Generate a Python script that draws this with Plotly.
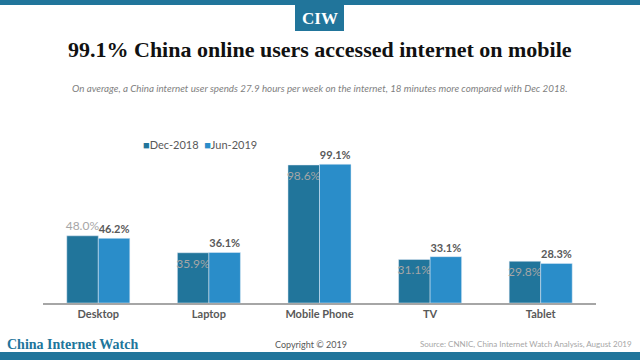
import plotly.graph_objects as go

categories = ["Desktop", "Laptop", "Mobile Phone", "TV", "Tablet"]
dec_2018 = [48.0, 35.9, 98.6, 31.1, 29.8]
jun_2019 = [46.2, 36.1, 99.1, 33.1, 28.3]
series_names = ["Dec-2018", "Jun-2019"]

TEAL = "#21759b"
BLUE = "#2a8dc9"
W, H = 640, 360

def py(p):
    return 1 - p / H

def px(p):
    return p / W

dec_pos = ["inside"] * len(dec_2018)
dec_pos[0] = "outside"

fig = go.Figure()
fig.add_trace(go.Bar(
    x=categories, y=dec_2018, name=series_names[0], marker_color=TEAL,
    text=[f"{v:.1f}%" for v in dec_2018], textposition=dec_pos, textangle=0,
    insidetextanchor="end", constraintext="none",
    textfont=dict(family="Lato", size=12, color="#a6a6a6"),
    cliponaxis=False, showlegend=False, hoverinfo="skip",
))
fig.add_trace(go.Bar(
    x=categories, y=jun_2019, name=series_names[1], marker_color=BLUE,
    text=[f"<b>{v:.1f}%</b>" for v in jun_2019], textposition="outside", textangle=0,
    constraintext="none",
    textfont=dict(family="Lato", size=11, color="#595959"),
    cliponaxis=False, showlegend=False, hoverinfo="skip",
))

shapes = [
    dict(type="rect", xref="paper", yref="paper", x0=0, x1=1, y0=py(5), y1=1,
         fillcolor=TEAL, line_width=0),
    dict(type="rect", xref="paper", yref="paper", x0=px(295), x1=px(344), y0=py(31), y1=py(5),
         fillcolor=TEAL, line_width=0),
    dict(type="rect", xref="paper", yref="paper", x0=0, x1=1, y0=0, y1=py(352),
         fillcolor=TEAL, line_width=0),
]

legend_text = (f"<span style='color:{TEAL}'>■</span>{series_names[0]}  "
               f"<span style='color:{BLUE}'>■</span>{series_names[1]}")

annotations = [
    dict(text="<b>CIW</b>", x=px(319.5), y=py(18), xref="paper", yref="paper",
         showarrow=False, xanchor="center", yanchor="middle",
         font=dict(family="Liberation Serif", size=17, color="white")),
    dict(text="<b>99.1% China online users accessed internet on mobile</b>", x=0.5, y=py(50),
         xref="paper", yref="paper", showarrow=False, xanchor="center", yanchor="middle",
         font=dict(family="Liberation Serif", size=22, color="#111111")),
    dict(text="<i>On average, a China internet user spends 27.9 hours per week on the internet, 18 minutes more compared with Dec 2018.</i>",
         x=0.5, y=py(88), xref="paper", yref="paper", showarrow=False,
         xanchor="center", yanchor="middle",
         font=dict(family="Lato", size=9.8, color="#7f7f7f")),
    dict(text=legend_text, x=px(141), y=py(144), xref="paper", yref="paper",
         showarrow=False, xanchor="left", yanchor="middle",
         font=dict(family="Lato", size=11, color="#595959")),
    dict(text="<b>China Internet Watch</b>", x=px(5), y=py(344), xref="paper", yref="paper",
         showarrow=False, xanchor="left", yanchor="middle",
         font=dict(family="Liberation Serif", size=14, color=TEAL)),
    dict(text="Copyright © 2019", x=px(311), y=py(344), xref="paper", yref="paper",
         showarrow=False, xanchor="center", yanchor="middle",
         font=dict(family="Lato", size=9, color="#595959")),
    dict(text="Source: CNNIC, China Internet Watch Analysis, August 2019", x=px(634), y=py(344),
         xref="paper", yref="paper", showarrow=False, xanchor="right", yanchor="middle",
         font=dict(family="Lato", size=8, color="#a6a6a6")),
]

fig.update_layout(
    width=W, height=H, margin=dict(l=0, r=0, t=0, b=0, autoexpand=False),
    paper_bgcolor="white", plot_bgcolor="white",
    barmode="group", bargap=0.43, bargroupgap=0,
    shapes=shapes, annotations=annotations,
    showlegend=False, hovermode=False,
    xaxis=dict(domain=[px(43), px(596)], showgrid=False, showline=True, automargin=False,
               linecolor="#a6a6a6", linewidth=1.5, ticks="",
               tickprefix="<b>", ticksuffix="</b>",
               tickfont=dict(family="Lato", size=11, color="#595959")),
    yaxis=dict(domain=[py(303), py(142)], range=[0, 115], showgrid=False, automargin=False,
               showticklabels=False, zeroline=False, showline=False),
)

fig.write_html("out.html", config={"displayModeBar": False},
               post_script="document.body.style.margin='0';")
